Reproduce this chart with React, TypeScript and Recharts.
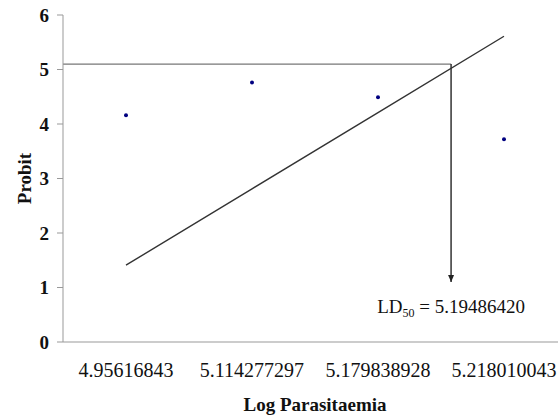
import React from "react";
import {
  ComposedChart,
  Line,
  XAxis,
  YAxis,
  ReferenceLine,
  ReferenceDot,
  Label,
} from "recharts";

// log parasitaemia categories and observed probits
const categories = ["4.95616843", "5.114277297", "5.179838928", "5.218010043"];
const probit = [4.16, 4.76, 4.49, 3.72];
// fitted regression line
const trend = [1.41, 2.81, 4.21, 5.61];
const boundaryTicks = [-0.5, 0.5, 1.5, 2.5, 3.5];
const yTicks = [0, 1, 2, 3, 4, 5, 6];

// LD50 marker
const ld50Pos = 2.58;
const ld50Probit = 5.1;
const arrowEnd = 1.1;
const ld50Value = "5.19486420";

const data = categories.map((c, i) => ({
  x: i,
  label: c,
  probit: probit[i],
  trend: trend[i],
}));

const serif = "Liberation Serif, Times New Roman, serif";

const ArrowHead = (props: any) => {
  const { cx, cy } = props;
  return (
    <polygon
      points={`${cx - 3},${cy - 7} ${cx + 3},${cy - 7} ${cx},${cy}`}
      fill="#222"
    />
  );
};

const LdLabel = (props: any) => {
  const { cx, cy } = props;
  return (
    <text
      x={cx}
      y={cy}
      textAnchor="middle"
      fontFamily={serif}
      fontSize={19}
      fill="#111"
    >
      LD
      <tspan fontSize={12} dy={4}>50</tspan>
      <tspan dy={-4}> = {ld50Value}</tspan>
    </text>
  );
};

const YTick = (props: any) => {
  const { x, y, payload } = props;
  return (
    <text
      x={x}
      y={y}
      dy="0.36em"
      textAnchor="end"
      fontFamily={serif}
      fontSize={19}
      fontWeight="bold"
      fill="#111"
    >
      {payload.value}
    </text>
  );
};

export default function App() {
  return (
    <div
      style={{
        position: "absolute",
        left: 0,
        top: 0,
        width: 558,
        height: 416,
        overflow: "hidden",
        background: "#fff",
        fontFamily: serif,
      }}
    >
      <ComposedChart
        width={600}
        height={416}
        data={data}
        margin={{ top: 15, right: 33, bottom: 0, left: 0 }}
        style={{ fontFamily: serif }}
      >
        <XAxis
          xAxisId="b"
          type="number"
          dataKey="x"
          domain={[-0.5, 3.5]}
          ticks={boundaryTicks}
          tickFormatter={() => ""}
          height={0}
          stroke="#999"
          tickLine={{ stroke: "#999" }}
        />
        <XAxis
          xAxisId="c"
          type="number"
          dataKey="x"
          domain={[-0.5, 3.5]}
          ticks={[0, 1, 2, 3]}
          tickFormatter={(i: number) => categories[i]}
          interval={0}
          tickLine={false}
          axisLine={{ stroke: "#999" }}
          tickMargin={15}
          height={74}
          tick={{ fill: "#111", fontSize: 20, fontFamily: serif }}
        >
          <Label
            value="Log Parasitaemia"
            position="insideBottom"
            offset={5}
            style={{ fontWeight: "bold", fontSize: 19, fill: "#111", fontFamily: serif }}
          />
        </XAxis>
        <YAxis
          domain={[0, 6]}
          ticks={yTicks}
          width={63}
          stroke="#999"
          tickMargin={8}
          tick={YTick}
        >
          <Label
            value="Probit"
            angle={-90}
            position="insideLeft"
            offset={24}
            style={{ fontWeight: "bold", fontSize: 19, fill: "#111", textAnchor: "middle", fontFamily: serif }}
          />
        </YAxis>
        <ReferenceLine
          xAxisId="c"
          segment={[
            { x: -0.5, y: ld50Probit },
            { x: ld50Pos, y: ld50Probit },
          ]}
          stroke="#777"
          strokeWidth={1.2}
        />
        <ReferenceLine
          xAxisId="c"
          segment={[
            { x: ld50Pos, y: ld50Probit },
            { x: ld50Pos, y: arrowEnd },
          ]}
          stroke="#333"
          strokeWidth={1.5}
        />
        <ReferenceDot xAxisId="c" x={ld50Pos} y={arrowEnd} shape={ArrowHead} />
        <ReferenceDot xAxisId="c" x={ld50Pos} y={0.53} shape={LdLabel} />
        <Line
          xAxisId="c"
          dataKey="trend"
          stroke="#333"
          strokeWidth={1.4}
          dot={false}
          isAnimationActive={false}
        />
        <Line
          xAxisId="c"
          dataKey="probit"
          stroke="none"
          dot={{ r: 2, fill: "#000080", stroke: "none" }}
          isAnimationActive={false}
        />
      </ComposedChart>
    </div>
  );
}
